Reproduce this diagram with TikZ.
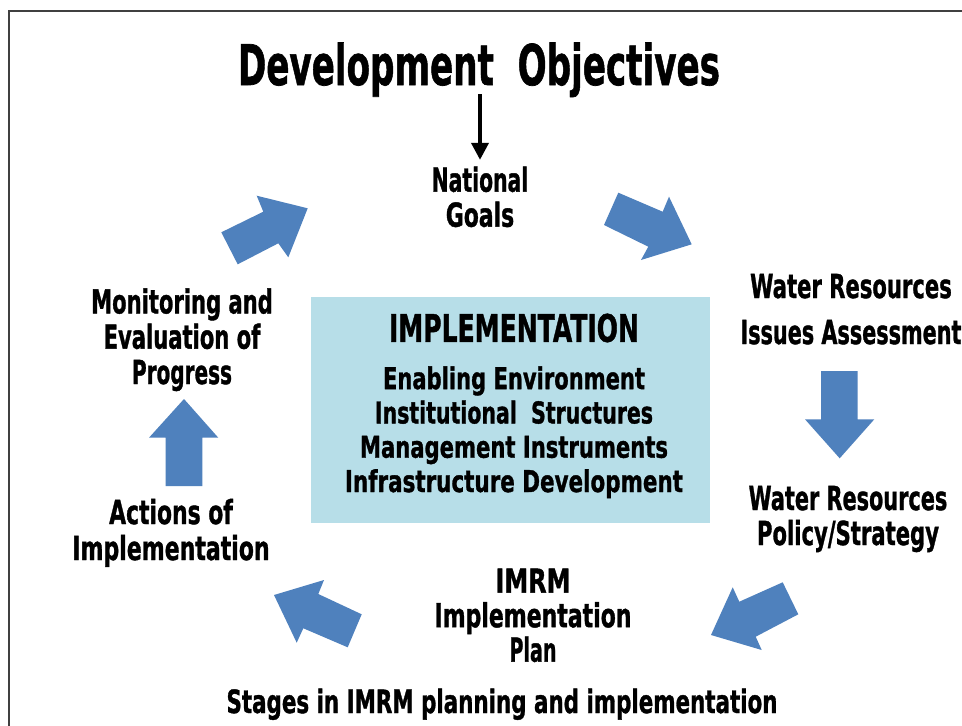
\documentclass[tikz,border=0pt]{standalone}
\usepackage{fontspec}
\setmainfont{DejaVu Sans}[BoldFeatures={FakeBold=1.3}]
\usepackage{graphicx}
\usetikzlibrary{arrows.meta}
\definecolor{arrowblue}{HTML}{4F81BD}
\definecolor{boxblue}{HTML}{B7DEE8}
\definecolor{framegray}{HTML}{404040}
\newsavebox\fitbox
\newcommand\fitw[2]{\sbox\fitbox{#2}\pgfmathsetmacro\fitr{#1/\the\wd\fitbox}\scalebox{\fitr}[1]{\usebox\fitbox}}
\tikzset{
  lbl/.style={inner sep=0pt, align=center, anchor=base},
  barrow/.style={fill=arrowblue, draw=none},
}
\begin{document}
\begin{tikzpicture}[x=1pt,y=1pt]
\useasboundingbox (0,0) rectangle (962,-726);
\fill[white] (0,0) rectangle (962,-726);
% frame
\draw[framegray, line width=1.2pt] (9,-726) -- (9,-11) -- (962,-11);
% central box
\node[fill=boxblue, inner sep=0pt, minimum width=399pt, minimum height=226pt, anchor=north west] (box) at (311,-296.7) {};
% (anchor base = baseline of the last line)
\node[lbl, font=\bfseries\fontsize{30}{34.3}\selectfont] (impl) at (514,-492)
  {{\fontsize{38}{40}\selectfont\fitw{250pt}{IMPLEMENTATION}}\\[13pt]
   \fitw{262pt}{Enabling Environment}\\
   \fitw{278pt}{Institutional\ \ Structures}\\
   \fitw{308pt}{Management Instruments}\\
   \fitw{338pt}{Infrastructure Development}};
% title
\node[lbl, font=\bfseries\fontsize{56}{60}\selectfont] (title) at (479,-85) {\fitw{482pt}{Development\ \ Objectives}};
% labels
\node[lbl, font=\bfseries\fontsize{33}{35}\selectfont] (ng) at (480,-226.7) {\fitw{96.6pt}{National}\\\fitw{68.3pt}{Goals}};
\node[lbl, font=\bfseries\fontsize{33}{46}\selectfont] (wria) at (851,-344) {\fitw{201.7pt}{Water Resources}\\\fitw{221pt}{Issues Assessment}};
\node[lbl, font=\bfseries\fontsize{33}{35}\selectfont] (wrps) at (848,-545) {\fitw{198.7pt}{Water Resources}\\\fitw{182pt}{Policy/Strategy}};
\node[lbl, font=\bfseries\fontsize{33}{34.5}\selectfont] (plan) at (533,-661.7) {\fitw{75pt}{IMRM}\\\fitw{197pt}{Implementation}\\\fitw{47pt}{Plan}};
\node[lbl, font=\bfseries\fontsize{33}{36}\selectfont] (act) at (171,-560) {\fitw{123.7pt}{Actions of}\\\fitw{197.3pt}{Implementation}};
\node[lbl, font=\bfseries\fontsize{33}{35.3}\selectfont] (mon) at (182,-384) {\fitw{181.6pt}{Monitoring and}\\\fitw{156.7pt}{Evaluation of}\\\fitw{100pt}{Progress}};
\node[lbl, font=\bfseries\fontsize{32}{34}\selectfont] (stages) at (502,-713) {\fitw{551pt}{Stages in IMRM planning and implementation}};
% title arrow
\draw[line width=3.8pt, -{Triangle[length=17pt,width=17pt]}, shorten <=-3pt, shorten >=6.6pt] (title.south -| ng.north) -- (ng.north);
% block arrows
\fill[barrow] (618.3,-192.7) -- (662.7,-211.7) -- (669,-196.7) -- (691.7,-244.3) -- (641,-260) -- (648.3,-246.7) -- (604,-225) -- cycle;
\fill[barrow] (821,-371) -- (857.7,-371) -- (857.7,-419.3) -- (874.3,-419.3) -- (839.7,-458.3) -- (805,-419.3) -- (821,-419.3) -- cycle;
\fill[barrow] (782.7,-582.3) -- (798.3,-614.3) -- (755.7,-636.7) -- (761.7,-650) -- (711,-635) -- (732.7,-587.3) -- (739.3,-601.7) -- cycle;
\fill[barrow] (274,-595) -- (324,-580) -- (318.3,-594) -- (361.7,-614.3) -- (347.7,-647.3) -- (303.3,-628.3) -- (296.7,-642.7) -- cycle;
\fill[barrow] (165.7,-486) -- (202.3,-486) -- (202.3,-437.7) -- (218.3,-437.7) -- (184,-399) -- (149,-437.7) -- (165.7,-437.7) -- cycle;
\fill[barrow] (237.7,-264.3) -- (221.3,-232.3) -- (263.3,-211.7) -- (256.7,-195.7) -- (307.7,-208.3) -- (288.3,-257.3) -- (278.3,-243.3) -- cycle;
\end{tikzpicture}
\end{document}
